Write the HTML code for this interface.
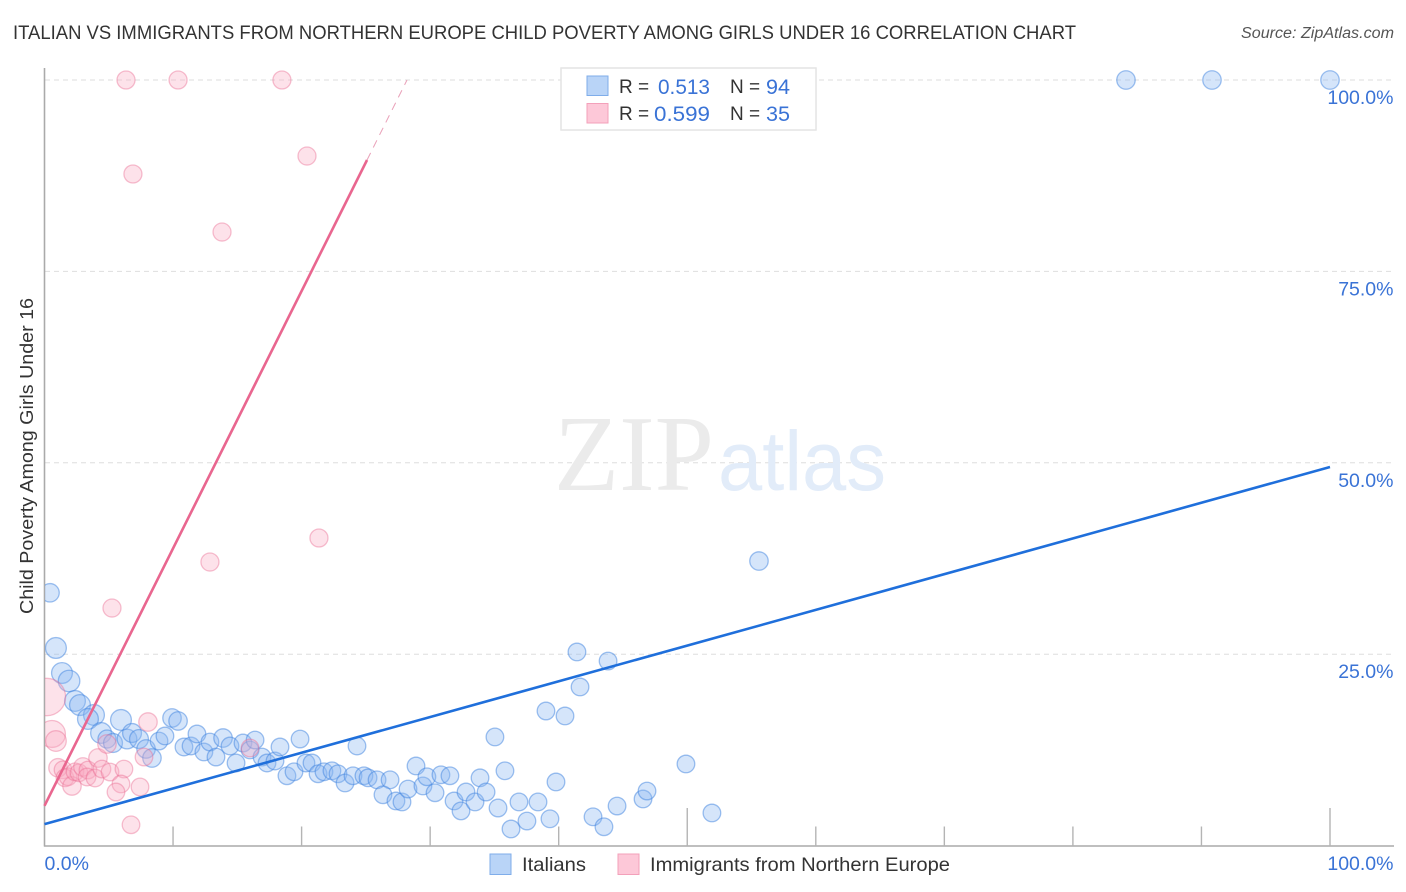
<!DOCTYPE html>
<html lang="en">
<head>
<meta charset="utf-8">
<title>Italian vs Immigrants from Northern Europe Child Poverty Correlation Chart</title>
<style>
html,body{margin:0;padding:0;background:#fff;}
svg{display:block;font-family:"Liberation Sans",sans-serif;}
</style>
</head>
<body>
<svg id="chart" xmlns="http://www.w3.org/2000/svg" width="1406" height="892" viewBox="0 0 1406 892">
  <rect x="0" y="0" width="1406" height="892" fill="#ffffff"/>
  <text x="13" y="39" font-size="19" fill="#333333" textLength="1063" lengthAdjust="spacingAndGlyphs">ITALIAN VS IMMIGRANTS FROM NORTHERN EUROPE CHILD POVERTY AMONG GIRLS UNDER 16 CORRELATION CHART</text>
  <text x="1241" y="38" font-size="15.5" font-style="italic" fill="#555555" textLength="153" lengthAdjust="spacingAndGlyphs">Source: ZipAtlas.com</text>
  <g id="grid"></g>
  <g>
    <text x="554" y="490" font-family="'Liberation Serif',serif" font-size="108" fill="#ebebeb" textLength="160" lengthAdjust="spacingAndGlyphs">ZIP</text>
    <text x="718" y="490" font-size="84" fill="#e2ecf9" textLength="168" lengthAdjust="spacingAndGlyphs">atlas</text>
  </g>
  <g id="axes"></g>
  <g id="points-a"></g>
  <g id="points-b"></g>
  <g id="trends"></g>
  <text transform="translate(33,456) rotate(-90)" text-anchor="middle" font-size="18.5" fill="#333333" textLength="316" lengthAdjust="spacingAndGlyphs">Child Poverty Among Girls Under 16</text>
  <g id="tick-labels"></g>

  <g>
    <rect x="561" y="68" width="255" height="62" fill="#ffffff" stroke="#e4e4e4" stroke-width="1.5"/>
    <rect x="587" y="76" width="21" height="19.5" fill="#b9d4f7" stroke="#7fadea" stroke-width="1"/>
    <rect x="587" y="103.500" width="21" height="19.5" fill="#fdc8d8" stroke="#f3a0ba" stroke-width="1"/>
    <text x="619" y="93" font-size="19" fill="#333333">R =</text>
    <text x="658" y="94" font-size="21.500" fill="#3a73d6" textLength="52" lengthAdjust="spacingAndGlyphs">0.513</text>
    <text x="730" y="93" font-size="19" fill="#333333">N =</text>
    <text x="766" y="94" font-size="21.500" fill="#3a73d6" textLength="24" lengthAdjust="spacingAndGlyphs">94</text>
    <text x="619" y="120" font-size="19" fill="#333333">R =</text>
    <text x="654" y="121" font-size="21.500" fill="#3a73d6" textLength="56" lengthAdjust="spacingAndGlyphs">0.599</text>
    <text x="730" y="120" font-size="19" fill="#333333">N =</text>
    <text x="766" y="121" font-size="21.500" fill="#3a73d6" textLength="24" lengthAdjust="spacingAndGlyphs">35</text>
  </g>

  <g>
    <g>
      <rect x="490" y="854" width="21" height="20.500" fill="#b9d4f7" stroke="#7fadea" stroke-width="1"/>
      <text x="522" y="871" font-size="19.500" fill="#333333" textLength="64" lengthAdjust="spacingAndGlyphs">Italians</text>
    </g>
    <g>
      <rect x="618" y="854" width="21" height="20.500" fill="#fdc8d8" stroke="#f3a0ba" stroke-width="1"/>
      <text x="650" y="871" font-size="19.500" fill="#333333" textLength="300" lengthAdjust="spacingAndGlyphs">Immigrants from Northern Europe</text>
    </g>
  </g>
</svg>

<script>
/* ---------- data (percent values) ---------- */
var italiansX = [0.43,0.89,1.36,1.91,2.37,2.76,3.85,3.38,4.40,4.86,5.33,5.95,6.42,6.81,7.35,7.90,8.36,8.91,9.37,9.92,10.39,10.85,11.40,11.86,12.40,12.87,13.34,13.89,14.43,14.90,15.44,15.99,16.38,16.92,17.31,17.93,18.32,18.86,19.41,19.88,20.34,20.81,21.28,21.74,22.36,22.83,23.38,24.00,24.85,25.17,25.87,26.88,24.31,26.33,27.34,27.81,28.28,29.44,28.90,29.75,30.38,30.84,31.54,31.86,32.40,32.79,33.49,33.88,34.35,35.28,35.82,35.04,36.29,36.91,37.53,38.39,39.32,39.79,39.01,40.49,41.42,41.66,43.84,42.67,43.52,44.54,46.56,46.87,49.90,51.92,55.58,84.13,90.82,100];
var italiansY = [33.02,25.81,22.54,21.50,18.89,18.36,17.06,16.54,14.71,13.92,13.40,16.41,13.92,14.71,13.92,12.62,11.44,13.66,14.32,16.67,16.28,12.88,13.01,14.58,12.23,13.53,11.57,14.05,13.01,10.79,13.40,12.49,13.79,11.57,10.79,11.05,12.88,9.12,9.64,13.92,10.79,10.79,9.38,9.64,9.77,9.38,8.18,9.12,9.12,8.85,8.59,8.59,13.01,6.64,5.83,5.70,7.39,7.79,10.40,8.99,6.90,9.25,9.12,5.83,4.53,7.00,5.70,8.85,7.00,4.91,9.77,14.19,2.17,5.70,3.21,5.70,3.50,8.31,17.58,16.93,25.29,20.72,24.11,3.76,2.46,5.17,6.09,7.13,10.66,4.26,37.17,100,100,100];
var italiansWeight = [1.1,1.4,1.4,1.5,1.4,1.4,1.4,1.4,1.4,1.05,1.15,1.4,1.25,1.15,1.15,1.1,1.1,1,1,1.1,1.1,1,1,1,1,1,1,1.1,1,1,1,1,1,1,1,1,1,1,1,1,1,1,1,1,1,1,1,1,1,1,1,1,1,1,1,1,1,1,1,1,1,1,1,1,1,1,1,1,1,1,1,1,1,1,1,1,1,1,1,1,1,1,1,1,1,1,1,1,1,1,1.1,1.1,1.1,1.1];

var immigrantsX = [0.19,0.58,0.89,8.05,1.05,1.44,1.59,1.83,2.14,2.37,2.68,2.99,3.38,3.31,3.93,4.16,4.47,5.10,4.86,6.18,5.95,5.56,7.43,6.73,7.74,15.99,5.25,12.87,21.35,20.42,13.81,6.88,6.34,10.39,18.47];
var immigrantsY = [19.41,14.58,13.66,16.14,10.16,9.90,8.85,8.99,7.79,9.64,9.51,10.27,9.87,8.96,8.83,11.44,10.00,9.61,13.27,10.00,8.05,7.00,7.66,2.72,11.57,12.75,31.03,37.04,40.18,90.07,80.14,87.72,100,100,100];
var immigrantsWeight = [4.5,2.34,1.38,1.1,1.1,1,1,1,1.1,1,1,1.1,1,1,1,1.1,1,1,1.1,1,1,1,1,1,1,1,1.05,1.05,1.05,1.05,1.05,1.05,1.05,1.05,1.05];

/* trend lines: [x, y] endpoints in percent */
var italiansTrendX = [0, 100];
var italiansTrendY = [2.8, 49.45];
var immigrantsTrendX = [0, 25.09];
var immigrantsTrendY = [5.2, 89.55];
var immigrantsExtensionX = [25.09, 28.2];
var immigrantsExtensionY = [89.55, 100];

var yTickValues = [25, 50, 75, 100];
var yTickLabels = ["25.0%", "50.0%", "75.0%", "100.0%"];
var xTickValues = [0, 10, 20, 30, 40, 50, 60, 70, 80, 90, 100];
var xEndLabels = ["0.0%", "100.0%"];

/* ---------- axis functions ---------- */
var X0 = 44.5, X100 = 1330, Y0 = 845.6, Y100 = 80;
function sx(v) { return X0 + (X100 - X0) * v / 100; }
function sy(v) { return Y0 + (Y100 - Y0) * v / 100; }
function sr(w) { return 8.8 * Math.sqrt(w); }

var NS = "http://www.w3.org/2000/svg";
function make(parent, tag, attrs) {
  var el = document.createElementNS(NS, tag);
  for (var k in attrs) { el.setAttribute(k, attrs[k]); }
  parent.appendChild(el);
  return el;
}

/* clip for points at the axis */
var defs = document.createElementNS(NS, "defs");
document.getElementById("chart").insertBefore(defs, document.getElementById("chart").firstChild);
var clip = make(defs, "clipPath", { id: "plot-clip" });
make(clip, "rect", { x: 45, y: 60, width: 1361, height: 786 });

/* grid */
var grid = document.getElementById("grid");
yTickValues.forEach(function (v) {
  var l = make(grid, "line", { x1: 45, x2: 1394, y1: sy(v), y2: sy(v), stroke: "#dedede", "stroke-width": 1, "stroke-dasharray": "5 4" });
  
  
});

/* axes */
var axes = document.getElementById("axes");
var yAxis = make(axes, "line", { x1: 44.5, x2: 44.5, y1: 68, y2: 846.5, stroke: "#aaaaaa", "stroke-width": 1.6 });


var xAxis = make(axes, "line", { x1: 44, x2: 1394, y1: 846, y2: 846, stroke: "#aaaaaa", "stroke-width": 1.6 });


xTickValues.forEach(function (v) {
  if (v === 0) { return; }
  var tall = (v === 50 || v === 100);
  var t = make(axes, "line", { x1: sx(v), x2: sx(v), y1: tall ? 808 : 826.5, y2: 846, stroke: "#b4b4b4", "stroke-width": 1.4 });
  
  
});

/* points */
var gA = document.getElementById("points-a");
gA.setAttribute("clip-path", "url(#plot-clip)");
italiansX.forEach(function (x, i) {
  var c = make(gA, "circle", { cx: sx(x), cy: sy(italiansY[i]), r: sr(italiansWeight[i]), fill: "#8ab6f0", "fill-opacity": 0.36, stroke: "#3f84e0", "stroke-opacity": 0.5, "stroke-width": 1.3 });
  
  
});
var gB = document.getElementById("points-b");
gB.setAttribute("clip-path", "url(#plot-clip)");
immigrantsX.forEach(function (x, i) {
  var c = make(gB, "circle", { cx: sx(x), cy: sy(immigrantsY[i]), r: sr(immigrantsWeight[i]), fill: "#f9a9c0", "fill-opacity": 0.34, stroke: "#ea6c92", "stroke-opacity": 0.42, "stroke-width": 1.3 });
  
  
});

/* trend lines */
var trends = document.getElementById("trends");
var t1 = make(trends, "line", { x1: sx(immigrantsTrendX[0]), y1: sy(immigrantsTrendY[0]), x2: sx(immigrantsTrendX[1]), y2: sy(immigrantsTrendY[1]), stroke: "#e9668f", "stroke-width": 2.6 });


var t2 = make(trends, "line", { x1: sx(immigrantsExtensionX[0]), y1: sy(immigrantsExtensionY[0]), x2: sx(immigrantsExtensionX[1]), y2: sy(immigrantsExtensionY[1]), stroke: "#e9a0b8", "stroke-width": 1, "stroke-dasharray": "8 6" });


var t3 = make(trends, "line", { x1: sx(italiansTrendX[0]), y1: sy(italiansTrendY[0]), x2: sx(italiansTrendX[1]), y2: sy(italiansTrendY[1]), stroke: "#1f6fdb", "stroke-width": 2.6 });



/* tick labels */
var labels = document.getElementById("tick-labels");
yTickValues.forEach(function (v, i) {
  var t = make(labels, "text", { x: 1393.5, y: sy(v) + 24, "text-anchor": "end", "font-size": 19.5, fill: "#3a73d6" });
  t.textContent = yTickLabels[i];
  
  
});
var xl0 = make(labels, "text", { x: 44.5, y: 870, "font-size": 19.5, fill: "#3a73d6" });
xl0.textContent = xEndLabels[0];


var xl1 = make(labels, "text", { x: 1393.5, y: 870, "text-anchor": "end", "font-size": 19.5, fill: "#3a73d6" });
xl1.textContent = xEndLabels[1];


</script>
</body>
</html>
